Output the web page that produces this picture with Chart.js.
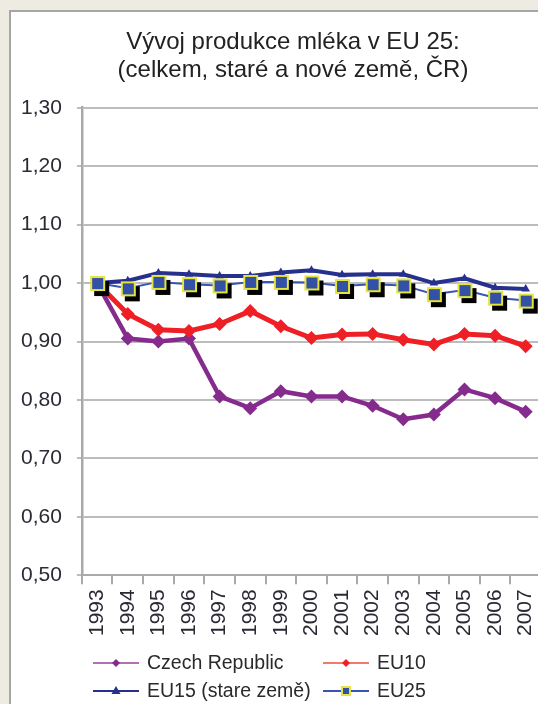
<!DOCTYPE html>
<html>
<head>
<meta charset="utf-8">
<script src="https://cdn.jsdelivr.net/npm/chart.js@4"></script>
<style>
  html, body { margin:0; padding:0; width:538px; height:704px; overflow:hidden; background:#eeebe3; }
  #frame { position:absolute; left:9px; top:10px; width:620px; height:740px; background:#fff;
           border-left:2px solid #a3a7a6; border-top:2px solid #a3a7a6; }
  #myChart { position:absolute; left:-5px; top:0; }
</style>
</head>
<body>
<div id="frame"><canvas id="myChart" width="574" height="700"></canvas></div>
<script>
// Roky (osa X)
const years = ['1993','1994','1995','1996','1997','1998','1999','2000','2001','2002','2003','2004','2005','2006','2007'];

// Index produkce mléka (1993 = 1,00)
const czech = [1.000, 0.905, 0.900, 0.905, 0.806, 0.786, 0.815, 0.806, 0.806, 0.790, 0.767, 0.775, 0.818, 0.803, 0.780];
const eu10  = [1.000, 0.947, 0.920, 0.918, 0.930, 0.952, 0.926, 0.906, 0.912, 0.913, 0.903, 0.895, 0.913, 0.910, 0.892];
const eu15  = [1.000, 1.004, 1.017, 1.015, 1.012, 1.012, 1.018, 1.022, 1.014, 1.015, 1.015, 1.000, 1.008, 0.992, 0.990];
const eu25  = [1.000, 0.991, 1.002, 0.998, 0.996, 1.002, 1.002, 1.001, 0.995, 0.998, 0.996, 0.981, 0.988, 0.975, 0.970];

// Popisky osy Y
const yTickLabels = ['0,50','0,60','0,70','0,80','0,90','1,00','1,10','1,20','1,30'];

const seriesNames = ['Czech Republic', 'EU10', 'EU15 (stare země)', 'EU25'];

Chart.defaults.font.family = '"Liberation Sans", Arial, sans-serif';
Chart.defaults.color = '#2a2a35';

// ctverecek se stinem pro EU25
function squareImg(size, border, shadowX, shadowY) {
    const c = document.createElement('canvas');
    c.width = 30; c.height = 30;
    const g = c.getContext('2d');
    const s = 15 - Math.floor(size / 2);
    if (shadowX || shadowY) {
        g.fillStyle = '#000';
        g.fillRect(s + shadowX, s + shadowY, size, size);
    }
    g.fillStyle = '#e4e43c';
    g.fillRect(s, s, size, size);
    g.fillStyle = '#3352a6';
    g.fillRect(s + border, s + border, size - 2 * border, size - 2 * border);
    return c;
}
const bigSquare = squareImg(15, 2, 4, 5);

// vlastni legenda (2 sloupce), souradnice v canvasu
const legendPlugin = {
    id: 'legend2',
    afterDraw(chart) {
        const ctx = chart.ctx;
        const pos = [[87, 651], [317, 651], [87, 679], [317, 679]];
        const lineW = 46;
        ctx.save();
        chart.data.datasets.forEach((ds, i) => {
            const x = pos[i][0], y = pos[i][1];
            const mx = x + lineW / 2;
            ctx.strokeStyle = ds.legendLine;
            ctx.lineWidth = 2;
            ctx.beginPath();
            ctx.moveTo(x, y); ctx.lineTo(x + lineW, y);
            ctx.stroke();
            ctx.fillStyle = ds.borderColor;
            if (ds.pointStyle === 'rectRot') {
                ctx.beginPath();
                ctx.moveTo(mx, y - 4); ctx.lineTo(mx + 4, y); ctx.lineTo(mx, y + 4); ctx.lineTo(mx - 4, y);
                ctx.closePath(); ctx.fill();
            } else if (ds.pointStyle === 'triangle') {
                ctx.beginPath();
                ctx.moveTo(mx, y - 5); ctx.lineTo(mx + 4.5, y + 3); ctx.lineTo(mx - 4.5, y + 3);
                ctx.closePath(); ctx.fill();
            } else {
                ctx.fillStyle = '#e4e43c';
                ctx.fillRect(mx - 5, y - 5, 10, 10);
                ctx.fillStyle = '#3352a6';
                ctx.fillRect(mx - 3, y - 3, 6, 6);
            }
            ctx.fillStyle = '#2a2a2a';
            ctx.font = '19.5px "Liberation Sans", Arial, sans-serif';
            ctx.textBaseline = 'middle';
            ctx.textAlign = 'left';
            ctx.fillText(ds.label, x + lineW + 8, y + 1);
        });
        ctx.restore();
    }
};

new Chart(document.getElementById('myChart'), {
    type: 'line',
    data: {
        labels: years,
        datasets: [{
            label: seriesNames[0],
            data: czech,
            borderColor: '#862b8e',
            backgroundColor: '#862b8e',
            legendLine: '#b070b4',
            borderWidth: 4.5,
            pointStyle: 'rectRot',
            pointRadius: 7,
            pointBorderWidth: 0,
            order: 3
        }, {
            label: seriesNames[1],
            data: eu10,
            borderColor: '#ee2026',
            backgroundColor: '#ee2026',
            legendLine: '#f07a6e',
            borderWidth: 5,
            pointStyle: 'rectRot',
            pointRadius: 7,
            pointBorderWidth: 0,
            order: 2
        }, {
            label: seriesNames[2],
            data: eu15,
            borderColor: '#27308c',
            backgroundColor: '#27308c',
            legendLine: '#27308c',
            borderWidth: 4,
            pointStyle: 'triangle',
            pointRadius: 5,
            pointBorderWidth: 0,
            order: 1
        }, {
            label: seriesNames[3],
            data: eu25,
            borderColor: '#3a55b0',
            backgroundColor: '#3a55b0',
            legendLine: '#3a55b0',
            borderWidth: 2,
            pointStyle: bigSquare,
            order: 0
        }]
    },
    options: {
        responsive: false,
        animation: false,
        events: [],
        layout: { padding: { left: 0, right: 0, top: 0, bottom: 71 } },
        plugins: {
            legend: { display: false },
            tooltip: { enabled: false },
            title: {
                display: true,
                text: ['Vývoj produkce mléka v EU 25:', '(celkem, staré a nové země, ČR)'],
                color: '#222',
                font: { size: 24, weight: 'normal', lineHeight: 1.14 },
                padding: { top: 17, bottom: 24 }
            }
        },
        scales: {
            x: {
                offset: true,
                grid: { offset: true, drawOnChartArea: false, tickLength: 9, color: '#a9a9a9', lineWidth: 2 },
                border: { color: '#a9a9a9', width: 2 },
                ticks: { autoSkip: false, minRotation: 90, maxRotation: 90, padding: 5, font: { size: 21 } }
            },
            y: {
                min: 0.5,
                max: 1.3,
                grid: { color: '#bcbcbc', lineWidth: 2, tickLength: 5 },
                border: { color: '#a9a9a9', width: 2.5 },
                ticks: {
                    stepSize: 0.1,
                    padding: 15,
                    font: { size: 21 },
                    callback: (v, i) => yTickLabels[i]
                }
            },
            // prazdna osa vpravo - jen misto za grafem
            yRight: {
                position: 'right',
                grid: { display: false },
                border: { display: false },
                ticks: { display: false },
                afterFit(scale) { scale.width = 39; }
            }
        }
    },
    plugins: [legendPlugin]
});
</script>
</body>
</html>
